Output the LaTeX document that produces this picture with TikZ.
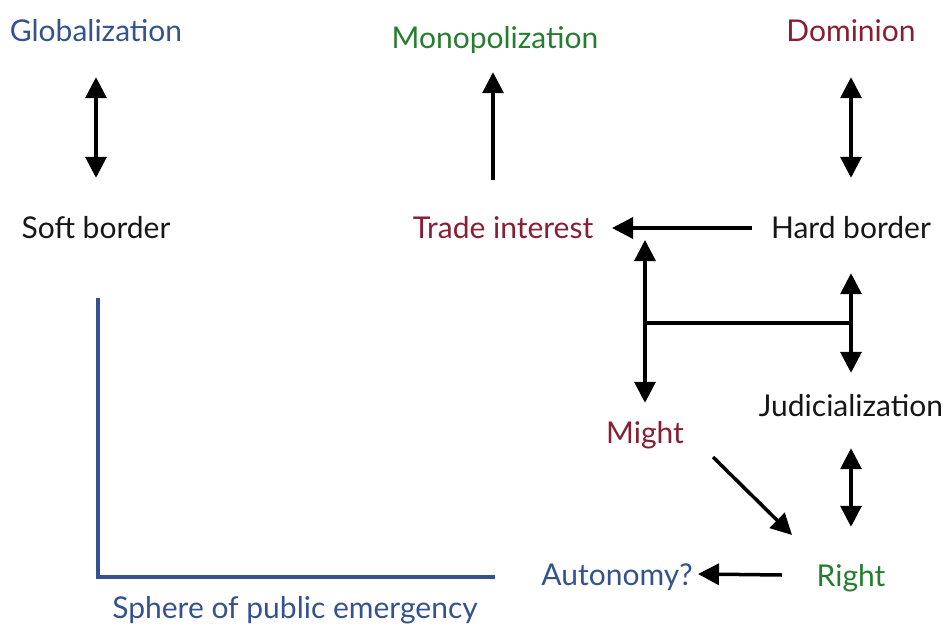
\documentclass[tikz,border=0pt]{standalone}
\usepackage{fontspec}
\setmainfont{Lato}
\usetikzlibrary{arrows.meta}
\definecolor{gblue}{RGB}{52,82,142}
\definecolor{ggreen}{RGB}{38,125,48}
\definecolor{gred}{RGB}{135,30,52}
\definecolor{txt}{RGB}{22,22,22}
\begin{document}
\begin{tikzpicture}[x=1pt,y=-1pt,
  lbl/.style={font=\fontsize{30}{35}\selectfont, inner sep=0pt, text height=21pt, text depth=6pt, anchor=base},
  arr/.style={line width=3.5pt, -{Triangle[length=21pt,width=21pt]}},
  dbl/.style={line width=3.5pt, {Triangle[length=21pt,width=21pt]}-{Triangle[length=21pt,width=21pt]}},
  axis/.style={gblue, line width=3.5pt}
]
\useasboundingbox (0,0) rectangle (943,625);
\node[lbl,gblue] (glob) at (96,41) {Globalization};
\node[lbl,ggreen] (mono) at (495,48) {Monopolization};
\node[lbl,gred] (dom) at (851,41) {Dominion};
\node[lbl,txt] (soft) at (96,238) {Soft border};
\node[lbl,gred] (trade) at (503,238) {Trade interest};
\node[lbl,txt] (hard) at (851,238) {Hard border};
\node[lbl,txt] (jud) at (851,416) {Judicialization};
\node[lbl,gred] (might) at (645,443) {Might};
\node[lbl,ggreen] (right) at (851,586) {Right};
\node[lbl,gblue] (auto) at (617,585) {Autonomy?};
\node[lbl,gblue] (sphere) at (295,618) {Sphere of public emergency};

\draw[dbl, shorten <=30pt, shorten >=39pt] (glob.south) -- (soft.north);
\draw[arr, shorten <=37pt, shorten >=18pt] ([xshift=-2pt]mono.south |- trade.north) -- ([xshift=-2pt]mono.south);
\draw[dbl, shorten <=30pt, shorten >=39pt] (dom.south) -- (hard.north);
\draw[arr] ([shift={(-99,-2.5)}]hard.center) -- ([shift={(109,-2.5)}]trade.center);
\draw[dbl, shorten <=19pt, shorten >=2pt] (might.north) -- (might.north |- trade.base);
\draw[dbl, shorten <=29pt, shorten >=22pt] (hard.south) -- (jud.north);
\path (hard.south) -- coordinate[pos=0.523] (hj) (jud.north);
\draw[line width=3.5pt] (hj) -- (hj -| might.north);
\draw[dbl, shorten <=26pt, shorten >=38pt] (jud.south) -- (right.north);
\draw[arr] ([shift={(68,21.5)}]might.center) -- ([shift={(-59,-43.5)}]right.center);
\draw[arr] ([shift={(-69,-3.5)}]right.center) -- ([shift={(81,-3.5)}]auto.center);

\coordinate (axtop) at (98,298);
\coordinate (axcorner) at (98,577);
\coordinate (axend) at (495,577);
\draw[axis] (axtop) -- (axcorner) -- (axend);
\end{tikzpicture}
\end{document}
